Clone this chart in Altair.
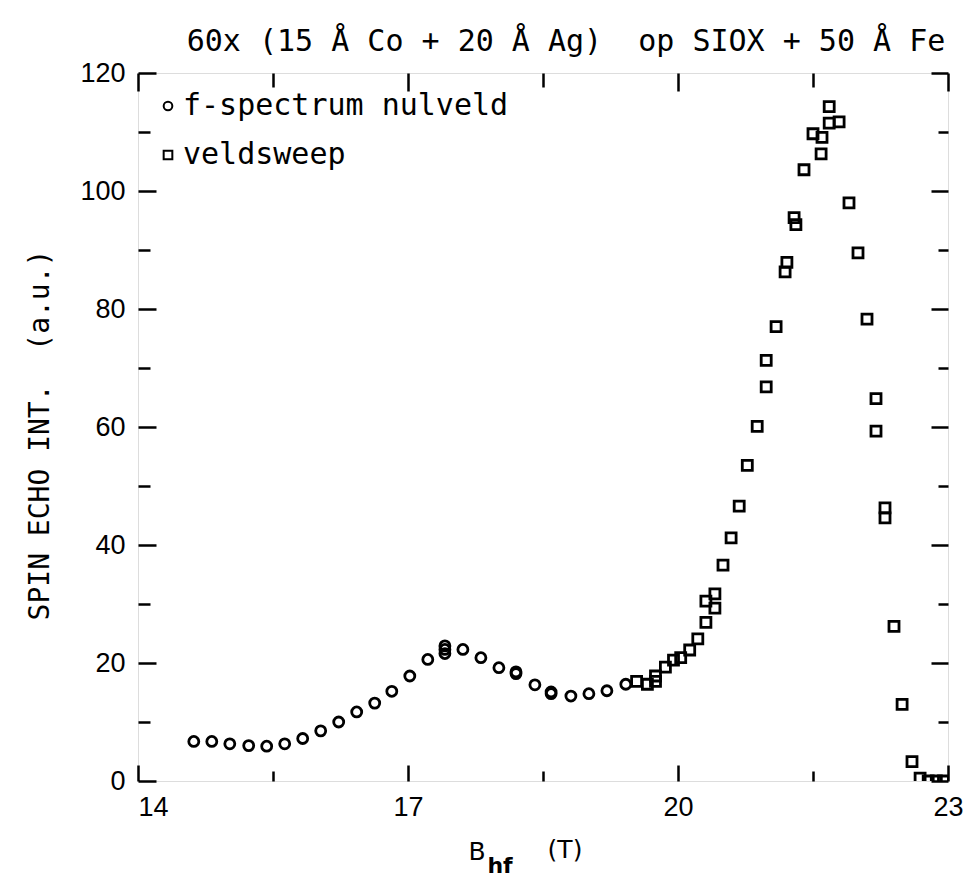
import altair as alt
import pandas as pd

# Zero-field frequency spectrum converted to hyperfine field (circles)
nulveld_b = [14.62, 14.82, 15.02, 15.23, 15.43, 15.63, 15.83, 16.03, 16.23, 16.43,
             16.63, 16.82, 17.02, 17.22, 17.41, 17.41, 17.41, 17.61, 17.81, 18.01,
             18.20, 18.20, 18.41, 18.59, 18.59, 18.81, 19.01, 19.21, 19.42]
nulveld_int = [6.7, 6.7, 6.3, 6.0, 5.9, 6.3, 7.2, 8.5, 10.0, 11.7,
               13.2, 15.2, 17.8, 20.6, 22.9, 22.3, 21.6, 22.3, 20.9, 19.2,
               18.5, 18.2, 16.3, 15.1, 14.8, 14.4, 14.8, 15.3, 16.4]

# Field sweep (squares)
sweep_b = [19.54, 19.66, 19.75, 19.75, 19.86, 19.95, 20.03, 20.13, 20.22, 20.31,
           20.31, 20.41, 20.41, 20.50, 20.59, 20.68, 20.77, 20.88, 20.98, 20.98,
           21.09, 21.19, 21.21, 21.29, 21.31, 21.40, 21.50, 21.59, 21.60, 21.68,
           21.68, 21.79, 21.90, 22.00, 22.10, 22.20, 22.20, 22.30, 22.30, 22.40,
           22.49, 22.60, 22.69, 22.78, 22.87, 22.95]
sweep_int = [16.9, 16.4, 17.8, 16.9, 19.3, 20.5, 20.9, 22.2, 24.1, 26.9,
             30.5, 31.7, 29.3, 36.6, 41.2, 46.6, 53.5, 60.1, 66.8, 71.3,
             77.0, 86.3, 87.9, 95.5, 94.3, 103.6, 109.7, 106.3, 109.1, 111.5,
             114.3, 111.7, 98.0, 89.5, 78.3, 64.8, 59.3, 46.3, 44.6, 26.2,
             13.0, 3.3, 0.5, 0.0, 0.0, 0.0]

series_names = ["f-spectrum nulveld", "veldsweep"]
series_shapes = ["circle", "square"]

x_major = [14, 17, 20, 23]
x_minor = [15.5, 18.5, 21.5]
y_major = [0, 20, 40, 60, 80, 100, 120]
y_minor = [10, 30, 50, 70, 90, 110]

title_text = "60x (15 Å Co + 20 Å Ag)\u00a0\u00a0op SIOX + 50 Å Fe"
y_title_text = "SPIN ECHO INT.\u00a0\u00a0(a.u.)"

df = pd.DataFrame({
    "B": nulveld_b + sweep_b,
    "I": nulveld_int + sweep_int,
    "serie": [series_names[0]] * len(nulveld_b) + [series_names[1]] * len(sweep_b),
})

W, H = 810, 708
X_SCALE = alt.Scale(domain=[14, 23], nice=False, zero=False)
Y_SCALE = alt.Scale(domain=[0, 120], nice=False, zero=False)
LABEL_FONT = "Liberation Sans"
MONO = "DejaVu Sans Mono"


def tick_axis(orient, values, length):
    # inward-pointing ticks: axis pulled inside the frame by its own tick length
    return alt.Axis(orient=orient, values=values, tickSize=length, offset=-length,
                    domain=False, grid=False, labels=False, title=None,
                    tickColor="black", tickWidth=2.5)


def ghost(x_axis, y_axis):
    return alt.Chart(df).mark_point(opacity=0).encode(
        x=alt.X("B:Q", scale=X_SCALE, axis=x_axis),
        y=alt.Y("I:Q", scale=Y_SCALE, axis=y_axis),
    )


def label(text, x, y, **style):
    return alt.Chart(pd.DataFrame({"t": [text]})).mark_text(
        color="black", baseline="alphabetic", align="center", **style
    ).encode(text="t:N", x=alt.value(x), y=alt.value(y))


points = alt.Chart(df).mark_point(
    filled=False, size=100, strokeWidth=2.8, color="black", opacity=1, clip=True
).encode(
    x=alt.X("B:Q", scale=X_SCALE, axis=alt.Axis(
        orient="bottom", values=x_major, tickSize=16, offset=-16,
        domain=False, grid=False, title=None, tickColor="black", tickWidth=2.5,
        labelFont=LABEL_FONT, labelFontSize=27, labelColor="black", labelPadding=13,
        labelAlign={"condition": {"test": "datum.value == 14", "value": "left"},
                    "value": "center"},
    )),
    y=alt.Y("I:Q", scale=Y_SCALE, axis=alt.Axis(
        orient="left", values=y_major, tickSize=18, offset=-18,
        domain=False, grid=False, title=None, tickColor="black", tickWidth=2.5,
        labelFont=LABEL_FONT, labelFontSize=27, labelColor="black", labelPadding=13,
    )),
    shape=alt.Shape("serie:N", scale=alt.Scale(domain=series_names, range=series_shapes),
                    legend=alt.Legend(
                        orient="none", legendX=15, legendY=18, title=None, padding=0,
                        labelFont=MONO, labelFontSize=30, labelColor="black",
                        labelLimit=0, labelOffset=0, rowPadding=19,
                        symbolSize=75, symbolStrokeWidth=2, symbolStrokeColor="black",
                        symbolFillColor="white", symbolOpacity=1,
                    )),
)

top_right_major = ghost(tick_axis("top", x_major, 18), tick_axis("right", y_major, 17))
bottom_left_minor = ghost(tick_axis("bottom", x_minor, 10), tick_axis("left", y_minor, 12))
top_right_minor = ghost(tick_axis("top", x_minor, 14), tick_axis("right", y_minor, 10))

title = label(title_text, 428, -22, font=MONO, fontSize=30)
y_title = alt.Chart(pd.DataFrame({"t": [y_title_text]})).mark_text(
    font=MONO, fontSize=28, angle=270, align="center", baseline="middle", color="black"
).encode(text="t:N", x=alt.value(-97), y=alt.value(362))
b_main = label("B", 339, 787, font="DejaVu Sans", fontSize=25)
b_sub = label("hf", 362, 800, font="DejaVu Sans", fontSize=22, fontWeight="bold")
b_unit = label("(T)", 427, 785, font="DejaVu Sans", fontSize=25)

chart = alt.layer(
    points, top_right_major, bottom_left_minor, top_right_minor,
    title, y_title, b_main, b_sub, b_unit,
).resolve_scale(
    x="independent", y="independent"
).properties(
    width=W, height=H,
    padding={"left": 138, "top": 73, "right": 17, "bottom": 98},
    autosize=alt.AutoSizeParams(type="none"),
).configure_view(
    stroke="black", strokeWidth=2.5
).configure(
    background="white"
)

chart.save("out.html", embed_options={"renderer": "svg", "actions": False})
